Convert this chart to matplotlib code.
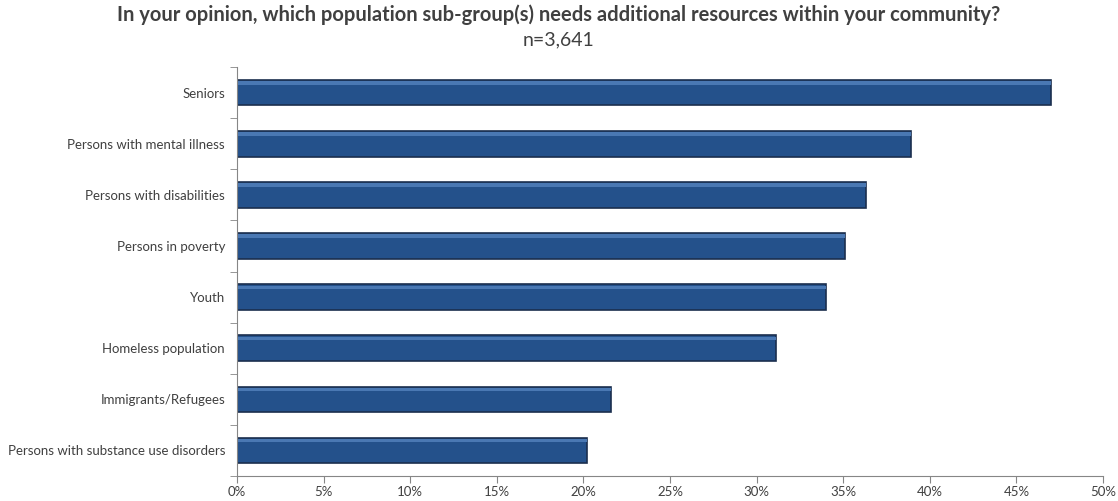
import numpy as np
import matplotlib.pyplot as plt
from matplotlib.ticker import FixedLocator, PercentFormatter

categories = [
    "Seniors",
    "Persons with mental illness",
    "Persons with disabilities",
    "Persons in poverty",
    "Youth",
    "Homeless population",
    "Immigrants/Refugees",
    "Persons with substance use disorders",
]
values = [47.0, 38.9, 36.3, 35.1, 34.0, 31.1, 21.6, 20.2]
xticks = [0, 5, 10, 15, 20, 25, 30, 35, 40, 45, 50]

plt.rcParams["font.family"] = ["Lato", "DejaVu Sans"]

fig = plt.figure(figsize=(11.18, 5.01), dpi=100)
ax = fig.add_axes([0.212, 0.05, 0.7746, 0.816])

y = np.arange(len(categories))[::-1]
ax.barh(y, values, height=0.5, color="#24518b", edgecolor="#1b2f4e", linewidth=1.2)
# thin highlight along the top of each bar
ax.barh(y + 0.19, values, height=0.07, color="#4a78b3", linewidth=0)

ax.set_xlim(0, 50)
ax.set_ylim(-0.5, len(categories) - 0.5)
ax.set_xticks(xticks)
ax.xaxis.set_major_formatter(PercentFormatter(decimals=0))
ax.set_yticks(y)
ax.set_yticklabels(categories)
ax.yaxis.set_minor_locator(FixedLocator(np.arange(-0.5, len(categories), 1)))
ax.tick_params(axis="y", which="major", length=0, pad=8.6, labelsize=9.5, colors="#404040")
ax.tick_params(axis="y", which="minor", length=5, color="#868686")
ax.tick_params(axis="x", length=5, color="#868686", labelsize=9.5, labelcolor="#404040", pad=2)

for s in ["top", "right"]:
    ax.spines[s].set_visible(False)
for s in ["left", "bottom"]:
    ax.spines[s].set_color("#868686")

fig.text(0.5, 0.97, "In your opinion, which population sub-group(s) needs additional resources within your community?",
         ha="center", va="center", fontsize=14.5, fontweight="bold", color="#404040")
fig.text(0.5, 0.92, "n=3,641", ha="center", va="center", fontsize=14, color="#404040")

fig.savefig("out.png", dpi=100)
